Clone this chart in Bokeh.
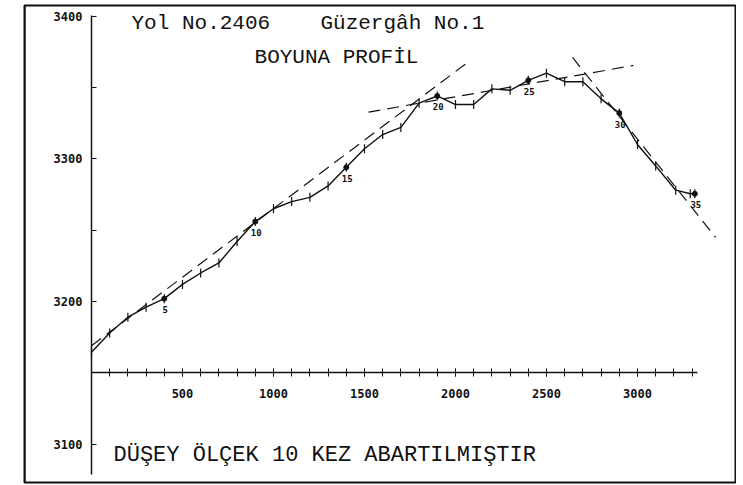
import numpy as np
from bokeh.plotting import figure
from bokeh.models import LinearAxis, FixedTicker, Range1d, Span
from bokeh.core.properties import value
from bokeh.embed import file_html
from bokeh.resources import INLINE

# ---- data ----
stations = [0, 100, 200, 300, 400, 500, 600, 700, 800, 900,
            1000, 1100, 1200, 1300, 1400, 1500, 1600, 1700, 1800, 1900,
            2000, 2100, 2200, 2300, 2400, 2500, 2600, 2700, 2800, 2900,
            3000, 3100, 3210, 3290, 3315]
elevations = [3164.5, 3178, 3189, 3196, 3202, 3212, 3220, 3227, 3242, 3256,
              3265, 3270, 3273, 3281, 3294, 3307, 3317, 3322, 3339, 3344,
              3338, 3338, 3349, 3348, 3355, 3360, 3354, 3354, 3342, 3332,
              3310, 3295, 3278, 3275.5, 3275.5]
label_index = [4, 9, 14, 19, 24, 29, 34]
point_labels = ["5", "10", "15", "20", "25", "30", "35"]

grade1_x = [0, 2082]
grade1_y = [3169, 3369]
grade2_x = [1522, 2978]
grade2_y = [3332.7, 3365.4]
grade3_x = [2643, 3429]
grade3_y = [3371, 3245]

y_major = [3100, 3200, 3300, 3400]
y_minor = [3150, 3250, 3350]
x_major = [500, 1000, 1500, 2000, 2500, 3000]
x_minor = list(range(100, 3400, 100))

title_road = "Yol No.2406"
title_route = "Güzergâh No.1"
title2 = "BOYUNA PROFİL"
note = "DÜŞEY ÖLÇEK 10 KEZ ABARTILMIŞTIR"

INK = "#111111"
MONO = "DejaVu Sans Mono"
TYPE = "Liberation Mono"

p = figure(width=736, height=484, output_backend="svg", toolbar_location=None,
           title=None,
           x_range=Range1d(-368, 3538.5), y_range=Range1d(3073.2, 3407.4),
           x_axis_location=None, y_axis_location=None,
           min_border_left=24, min_border_right=1,
           min_border_top=5, min_border_bottom=2)
p.xgrid.visible = False
p.ygrid.visible = False
p.outline_line_color = INK
p.outline_line_width = 2
p.background_fill_color = "white"
p.border_fill_color = "white"

# left edge of the outer frame (hedge in case outline side is faint)
p.add_layout(Span(location=p.x_range.start, dimension="height",
                  line_color=INK, line_width=2))

# vertical axis at station 0
yaxis = LinearAxis(fixed_location=0,
                   ticker=FixedTicker(ticks=y_major, minor_ticks=y_minor),
                   bounds=(3078.6, 3400.6))
yaxis.axis_line_color = INK
yaxis.axis_line_width = 1.5
yaxis.major_tick_in = 5
yaxis.major_tick_out = 0
yaxis.minor_tick_in = 5
yaxis.minor_tick_out = 0
yaxis.major_tick_line_color = INK
yaxis.minor_tick_line_color = INK
yaxis.major_label_standoff = 9
yaxis.major_label_text_font = MONO
yaxis.major_label_text_font_style = "bold"
yaxis.major_label_text_font_size = "12px"
yaxis.major_label_text_color = INK
p.add_layout(yaxis, "left")

# horizontal axis at elevation 3150
xaxis = LinearAxis(fixed_location=3150,
                   ticker=FixedTicker(ticks=x_major, minor_ticks=x_minor),
                   bounds=(0, 3330))
xaxis.axis_line_color = INK
xaxis.axis_line_width = 1.5
xaxis.major_tick_in = 4
xaxis.major_tick_out = 4
xaxis.minor_tick_in = 4
xaxis.minor_tick_out = 4
xaxis.major_tick_line_color = INK
xaxis.minor_tick_line_color = INK
xaxis.major_label_standoff = 12
xaxis.major_label_text_font = MONO
xaxis.major_label_text_font_style = "bold"
xaxis.major_label_text_font_size = "12px"
xaxis.major_label_text_color = INK
p.add_layout(xaxis, "below")

# grade (tangent) lines
for gx, gy in [(grade1_x, grade1_y), (grade2_x, grade2_y), (grade3_x, grade3_y)]:
    p.line(gx, gy, line_color=INK, line_width=1.2, line_dash="12 7")

# profile
p.line(stations, elevations, line_color=INK, line_width=1.4)
p.scatter(stations, elevations, marker="dash", angle=np.pi / 2, size=9,
          line_color=INK, line_width=1.2)
lab_x = [stations[i] for i in label_index]
lab_y = [elevations[i] for i in label_index]
p.scatter(lab_x, lab_y, marker="circle", size=5, fill_color=INK, line_color=INK)
p.text(x=lab_x, y=lab_y, text=point_labels, y_offset=11, x_offset=1,
       text_align="center", text_baseline="middle",
       text_font=value(MONO), text_font_style="bold",
       text_font_size="9px", text_color=INK)

# titles and note
p.text(x=[220], y=[3394.8], text=[title_road], text_align="left", text_baseline="middle",
       text_font=value(TYPE), text_font_size="21px", text_color=INK)
p.text(x=[1258], y=[3394.8], text=[title_route], text_align="left", text_baseline="middle",
       text_font=value(TYPE), text_font_size="21px", text_color=INK)
p.text(x=[1346], y=[3371], text=[title2], text_align="center", text_baseline="middle",
       text_font=value(TYPE), text_font_size="21px", text_color=INK)
p.text(x=[121], y=[3092], text=[note], text_align="left", text_baseline="middle",
       text_font=value(TYPE), text_font_size="22px", text_color=INK)

open("out.html", "w").write(file_html(p, INLINE))
